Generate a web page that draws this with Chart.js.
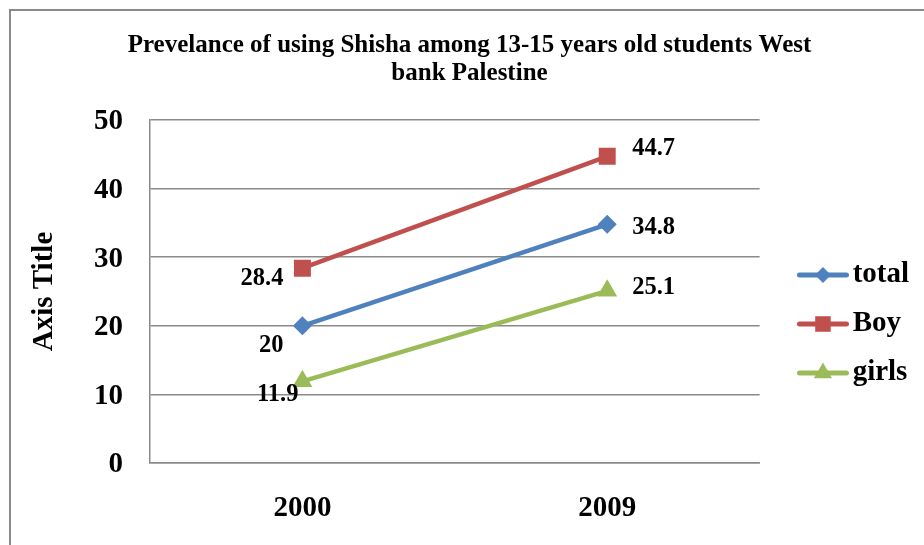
<!DOCTYPE html>
<html>
<head>
<meta charset="utf-8">
<title>Prevelance of using Shisha</title>
<script src="https://cdn.jsdelivr.net/npm/chart.js@4/dist/chart.umd.min.js"></script>
<style>
  html, body { margin: 0; padding: 0; background: #ffffff; }
  canvas { display: block; }
</style>
</head>
<body>
<canvas id="chart" width="924" height="545"></canvas>
<script>
// Survey years and prevalence (%) per group
const years = ['2000', '2009'];
const totalValues = [20, 34.8];
const boyValues = [28.4, 44.7];
const girlsValues = [11.9, 25.1];
const seriesNames = ['total', 'Boy', 'girls'];

const chartTitle = ['Prevelance of using Shisha among 13-15 years old students West', 'bank Palestine'];
const yAxisTitle = 'Axis Title';
const yMin = 0, yMax = 50, yStep = 10;

const colors = { total: '#4F81BD', Boy: '#C0504D', girls: '#9BBB59' };
const SERIF = "'Liberation Serif', 'Times New Roman', serif";
Chart.defaults.font.family = SERIF;
Chart.defaults.color = '#000000';

// Legend icon: a short line with the series marker in the middle
function legendIcon(color, pointStyle, radius) {
  const c = document.createElement('canvas');
  c.width = 80; c.height = 26;
  const g = c.getContext('2d');
  g.strokeStyle = color;
  g.lineWidth = 5;
  g.lineCap = 'round';
  g.beginPath();
  g.moveTo(30.5, 13);
  g.lineTo(77.5, 13);
  g.stroke();
  g.fillStyle = color;
  g.strokeStyle = color;
  Chart.helpers.drawPoint(g, { pointStyle: pointStyle, radius: radius, borderWidth: 0, rotation: 0 }, 54, 13);
  return c;
}

// Frame around the whole chart
const framePlugin = {
  id: 'frame',
  beforeDraw(chart) {
    const ctx = chart.ctx;
    ctx.save();
    ctx.fillStyle = '#ffffff';
    ctx.fillRect(0, 0, chart.width, chart.height);
    ctx.strokeStyle = '#8a8a8a';
    ctx.lineWidth = 2;
    ctx.beginPath();
    ctx.moveTo(10, chart.height);
    ctx.lineTo(10, 10);
    ctx.lineTo(chart.width, 10);
    ctx.stroke();
    ctx.restore();
  }
};

// Value labels next to each point
const valueLabelPlugin = {
  id: 'valueLabels',
  afterDatasetsDraw(chart, args, opts) {
    const ctx = chart.ctx;
    ctx.save();
    ctx.font = 'bold ' + opts.size + 'px ' + SERIF;
    ctx.fillStyle = '#000000';
    ctx.textBaseline = 'middle';
    chart.data.datasets.forEach((ds, di) => {
      const meta = chart.getDatasetMeta(di);
      meta.data.forEach((pt, i) => {
        const off = opts.offsets[ds.label][i];
        ctx.textAlign = i === 0 ? 'right' : 'left';
        ctx.fillText(String(ds.data[i]), pt.x + off[0], pt.y + off[1]);
      });
    });
    ctx.restore();
  }
};

const series = [
  { label: seriesNames[0], data: totalValues, style: 'rectRot', radius: 9.5, legendRadius: 8 },
  { label: seriesNames[1], data: boyValues, style: 'rect', radius: 12, legendRadius: 11 },
  { label: seriesNames[2], data: girlsValues, style: 'triangle', radius: 11.5, legendRadius: 10.5 }
];

const datasets = series.map(s => ({
  label: s.label,
  data: s.data,
  borderColor: colors[s.label],
  backgroundColor: colors[s.label],
  borderWidth: 4.5,
  pointStyle: s.style,
  pointRadius: s.radius,
  pointHoverRadius: s.radius,
  pointBackgroundColor: colors[s.label],
  pointBorderColor: colors[s.label],
  pointBorderWidth: 0,
  tension: 0,
  legendRadius: s.legendRadius
}));

new Chart(document.getElementById('chart'), {
  type: 'line',
  data: { labels: years, datasets: datasets },
  options: {
    responsive: false,
    animation: false,
    devicePixelRatio: 1,
    layout: { padding: { left: 20, right: 5, top: 0, bottom: 0 } },
    plugins: {
      title: {
        display: true,
        text: chartTitle,
        color: '#000000',
        font: { family: SERIF, size: 25, weight: 'bold', lineHeight: 1.1 },
        padding: { top: 32, bottom: 33 }
      },
      legend: {
        display: true,
        position: 'right',
        fullSize: false,
        align: 'center',
        title: { display: true, text: '', font: { size: 1, lineHeight: 1 }, padding: { top: 64, bottom: 0 } },
        labels: {
          usePointStyle: true,
          pointStyleWidth: 58.5,
          padding: 20,
          color: '#000000',
          font: { family: SERIF, size: 29, weight: 'bold' },
          generateLabels(chart) {
            const items = Chart.defaults.plugins.legend.labels.generateLabels(chart);
            items.forEach(it => {
              const ds = chart.data.datasets[it.datasetIndex];
              it.pointStyle = legendIcon(ds.borderColor, ds.pointStyle, ds.legendRadius);
            });
            return items;
          }
        }
      },
      tooltip: { enabled: false },
      valueLabels: {
        size: 24.5,
        offsets: {
          total: [[-19, 20], [25, 3]],
          Boy: [[-19, 10], [25, -8]],
          girls: [[-4, 13], [25, -3]]
        }
      }
    },
    scales: {
      x: {
        type: 'category',
        offset: true,
        grid: { display: false, drawTicks: false },
        border: { display: true, color: '#8a8a8a', width: 1.5 },
        ticks: { padding: 28, color: '#000000', font: { family: SERIF, size: 29, weight: 'bold' } },
        afterFit(scale) { scale.height = 82; }
      },
      y: {
        min: yMin,
        max: yMax,
        ticks: { stepSize: yStep, padding: 27, labelOffset: 2, color: '#000000', font: { family: SERIF, size: 29, weight: 'bold' } },
        grid: { display: true, drawTicks: false, color: '#8a8a8a', lineWidth: 1.5 },
        border: { display: true, color: '#8a8a8a', width: 1.5 },
        title: {
          display: true,
          text: yAxisTitle,
          color: '#000000',
          font: { family: SERIF, size: 29, weight: 'bold' },
          padding: { top: 7.6, bottom: 0 }
        },
        afterFit(scale) { scale.width = 130; }
      }
    }
  },
  plugins: [framePlugin, valueLabelPlugin]
});
</script>
</body>
</html>
